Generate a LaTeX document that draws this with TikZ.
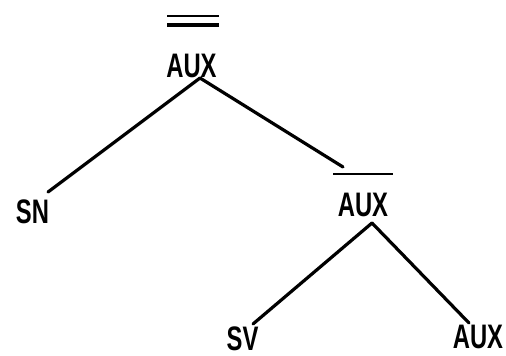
\documentclass[tikz,border=0pt]{standalone}
\usepackage{fontspec}
\setmainfont{Liberation Sans}
\usetikzlibrary{calc}
\begin{document}
\begin{tikzpicture}[x=1pt,y=-1pt,
  lbl/.style={inner sep=0pt, anchor=base, font=\fontsize{34}{34}\selectfont\bfseries},
  branch/.style={line width=3.2pt, line cap=round},
  bar/.style={line width=2.8pt}]
\useasboundingbox (0,0) rectangle (506,356);

% category labels
\node[lbl] (top) at (191.5,77)  {\scalebox{0.7}[1]{AUX}};
\node[lbl] (sn)  at (32.5,223)  {\scalebox{0.7}[1]{SN}};
\node[lbl] (mid) at (363,216)   {\scalebox{0.7}[1]{AUX}};
\node[lbl] (sv)  at (242.5,350) {\scalebox{0.7}[1]{SV}};
\node[lbl] (aux) at (478,348)   {\scalebox{0.7}[1]{AUX}};

% bar levels above the AUX projections
\draw[bar, line width=2.4pt] ($(top.base)+(-24.5,-61)$) -- ($(top.base)+(27.5,-61)$);
\draw[bar, line width=3.4pt] ($(top.base)+(-24.5,-52)$) -- ($(top.base)+(27.5,-52)$);
\draw[bar] ($(mid.base)+(-30,-42)$) -- ($(mid.base)+(30,-42)$);

% branches
\draw[branch] ($(top.base)+(8.5,1)$) -- ($(sn.base)+(15.5,-31)$);
\draw[branch] ($(top.base)+(8.5,1)$) -- ($(mid.base)+(-20,-49)$);
\draw[branch] ($(mid.base)+(9,7)$) -- ($(sv.base)+(10.5,-26)$);
\draw[branch] ($(mid.base)+(9,7)$) -- ($(aux.base)+(-9,-25)$);
\end{tikzpicture}
\end{document}
